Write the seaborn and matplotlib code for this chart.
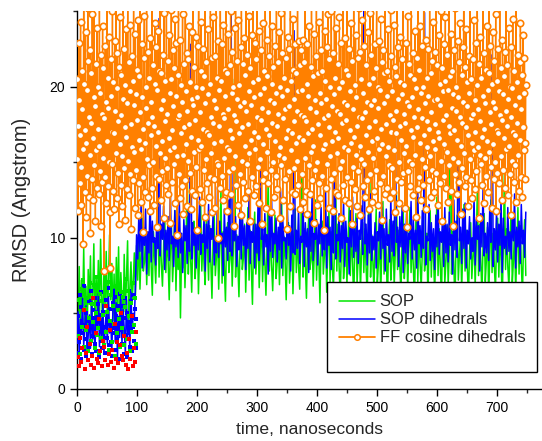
import numpy as np
import pandas as pd
import seaborn as sns
import matplotlib
matplotlib.use('Agg')
import matplotlib.pyplot as plt
from matplotlib.lines import Line2D
from matplotlib.ticker import MultipleLocator

sop = [6.5, 4.2, 8.1, 3.5, 7.2, 5.0, 9.3, 4.4, 6.8, 3.1, 7.9, 5.6, 8.8, 4.0, 6.1, 9.6, 3.8, 7.4, 5.2, 8.5,
       4.6, 9.9, 6.3, 3.4, 8.0, 5.5, 9.1, 4.8, 7.0, 10.2, 5.9, 8.3, 4.5, 7.6, 3.9, 8.7, 5.3, 9.4, 4.1, 7.7,
       6.0, 3.6, 8.9, 5.1, 7.3, 9.8, 4.3, 6.6, 8.4, 5.7, 7.1, 9.0, 6.2,
       9.5, 7.2, 10.8, 6.6, 9.0, 11.3, 7.8, 8.4, 10.1, 6.9, 9.7, 7.5, 11.0, 8.1, 6.2, 10.4, 8.8, 7.0, 9.9, 12.6,
       7.4, 10.6, 8.3, 6.8, 9.4, 11.5, 7.7, 10.0, 8.6, 5.9, 9.2, 10.9, 7.1, 8.9, 11.8, 6.5, 9.6, 7.9, 10.3, 4.7,
       9.1, 8.0, 10.7, 6.7, 9.3, 15.5, 7.6, 10.2, 8.7, 6.4, 9.8, 11.1, 7.3, 8.5, 10.5, 6.3, 9.0, 12.1, 7.8, 10.0,
       8.2, 6.9, 11.4, 9.5, 7.2, 10.8, 8.4, 6.0, 9.7, 11.6, 7.5, 8.8, 10.1, 6.6, 9.4, 13.2, 7.0, 10.4, 8.1, 5.8,
       9.9, 11.0, 7.7, 8.6, 10.6, 6.8, 9.2, 20.5, 7.4, 10.2, 8.3, 6.1, 9.6, 11.3, 7.9, 8.7, 10.9, 6.4, 9.1, 12.0,
       7.2, 10.5, 8.0, 5.6, 9.8, 11.7, 7.6, 8.9, 10.3, 6.7, 9.3, 11.2, 7.1, 10.0, 8.5, 6.2, 9.5, 14.1, 7.8, 10.7,
       8.2, 6.5, 9.0, 11.5, 7.3, 8.4, 10.4, 6.9, 9.7, 12.3, 7.5, 10.1, 8.6, 5.9, 9.4, 11.0, 7.0, 8.8, 10.8, 6.3,
       9.2, 11.9, 7.7, 10.3, 8.1, 6.6, 9.9, 16.8, 7.4, 10.6, 8.3, 6.0, 9.6, 11.4, 7.9, 8.5, 10.2, 6.8, 9.1, 12.5,
       7.2, 10.0, 8.7, 5.7, 9.8, 11.1, 7.6, 8.9, 10.5, 6.4, 9.3, 11.8, 7.1, 10.4, 8.0, 6.7, 9.5, 13.6, 7.8, 10.9,
       8.2, 6.1, 9.0, 11.3, 7.3, 8.6, 10.1, 6.9, 9.7, 12.2, 7.5, 10.7, 8.4, 5.8, 9.4, 11.6, 7.0, 8.8, 10.3, 6.5,
       9.2, 11.0, 7.7, 10.6, 8.1, 6.2, 9.9, 18.4, 7.4, 10.2, 8.5, 6.6, 9.6, 11.9, 7.0, 8.3, 10.8, 6.1, 9.3, 12.4,
       7.6, 10.1, 8.9, 5.5, 9.7, 11.2, 7.2, 8.6, 10.4, 6.8, 9.1, 13.0, 7.9, 10.5, 8.2, 6.3, 9.8, 11.7, 7.3, 8.7,
       10.9, 6.5, 9.4, 12.0, 7.7, 10.2, 8.0, 6.0, 9.5, 15.0, 7.1, 10.7, 8.4, 6.7, 9.0, 11.4, 7.8, 8.8, 10.3, 5.9,
       9.6, 11.8, 7.4, 10.0, 8.6, 6.4, 9.2, 12.7, 7.5, 10.6, 8.1, 6.2, 9.9, 11.1, 7.0, 8.5, 10.8, 6.9, 9.3, 21.6,
       7.6, 10.4, 8.3, 5.7, 9.7, 11.5, 7.2, 8.9, 10.1, 6.6, 9.4, 12.2, 7.8, 10.5, 8.0, 6.1, 9.1, 11.0, 7.3, 8.7,
       10.2, 6.8, 9.8, 13.4, 7.5, 10.9, 8.4, 6.3, 9.5, 11.6, 7.1, 8.6, 10.7, 6.0, 9.0, 12.5, 7.7, 10.3, 8.2, 6.5,
       9.6, 11.3, 7.4, 10.0, 8.8, 5.8, 9.2, 14.6, 7.9, 10.6, 8.1, 6.7, 9.9, 11.9, 7.0, 8.5, 10.4, 6.4, 9.3, 12.0,
       7.6, 10.8, 8.3, 6.2, 9.7, 11.2, 7.5]

sop_dih = [3.2, 5.1, 2.4, 4.6, 3.8, 6.0, 2.9, 4.2, 5.5, 2.2, 3.6, 4.9, 2.7, 5.8, 3.3, 4.4, 2.5, 5.2, 3.9, 6.3,
           2.8, 4.7, 3.5, 5.6, 2.3, 4.1, 5.0, 3.0, 6.1, 3.7, 4.5, 2.6, 5.4, 6.6, 3.1, 5.7, 2.1, 4.8, 3.4, 6.2,
           2.9, 5.3, 4.0, 2.4, 5.9, 3.6, 4.3, 2.7, 6.4, 3.8, 5.0, 4.6, 6.8,
           10.2, 8.6, 11.5, 9.1, 12.3, 8.0, 10.7, 9.5, 11.9, 7.6, 10.4, 9.0, 12.8, 8.4, 11.1, 9.7, 10.0, 8.2, 11.7, 9.3,
           24.5, 8.8, 10.9, 9.9, 12.1, 7.9, 10.5, 9.2, 11.4, 8.5, 13.0, 9.6, 10.1, 8.1, 11.8, 9.4, 10.6, 8.7, 12.4, 9.0,
           10.3, 7.7, 11.2, 9.8, 10.8, 8.3, 12.0, 9.1, 22.8, 8.6, 11.0, 9.5, 10.4, 8.0, 11.6, 9.2, 12.7, 8.9, 10.2, 9.7,
           11.3, 7.8, 10.9, 9.3, 12.2, 8.4, 10.6, 9.9, 11.5, 8.2, 10.0, 9.0, 13.4, 8.7, 11.1, 9.6, 10.3, 7.5, 11.9, 9.4,
           10.7, 8.5, 12.5, 9.1, 26.0, 8.8, 10.5, 9.8, 11.4, 8.1, 10.1, 9.2, 12.0, 8.6, 11.7, 9.5, 10.8, 7.9, 11.0, 9.3,
           12.9, 8.3, 10.4, 9.7, 11.2, 8.0, 10.9, 9.0, 12.3, 8.5, 19.6, 9.9, 10.6, 8.2, 11.6, 9.4, 10.2, 7.6, 11.8, 9.1,
           12.6, 8.7, 10.3, 9.6, 11.3, 8.4, 10.7, 9.2, 13.1, 8.0, 11.1, 9.8, 10.0, 8.6, 12.1, 9.5, 10.8, 7.8, 11.5, 9.0,
           23.7, 8.9, 10.5, 9.3, 11.9, 8.3, 10.1, 9.7, 12.4, 8.1, 11.0, 9.4, 10.6, 7.7, 11.7, 9.1, 12.8, 8.5, 10.3, 9.9,
           11.2, 8.2, 10.9, 9.6, 12.0, 8.8, 10.4, 9.2, 13.3, 8.0, 11.4, 9.5, 10.7, 7.9, 12.2, 9.0, 21.4, 8.6, 10.2, 9.8,
           11.6, 8.4, 10.8, 9.3, 12.5, 8.1, 11.1, 9.7, 10.0, 7.6, 11.8, 9.4, 12.7, 8.7, 10.6, 9.1, 11.3, 8.3, 10.5, 9.9,
           12.1, 8.9, 25.5, 9.6, 10.9, 8.2, 11.5, 9.0, 12.9, 8.5, 10.1, 9.2, 11.0, 8.0, 10.4, 9.8, 11.7, 8.6, 12.3, 9.3,
           10.6, 7.8, 11.9, 9.5, 10.2, 8.4, 12.6, 9.1, 11.1, 8.8, 18.2, 9.7, 10.7, 8.1, 11.4, 9.4, 12.0, 7.7, 10.9, 9.0,
           11.6, 8.3, 10.3, 9.9, 12.4, 8.6, 11.2, 9.2, 10.5, 8.0, 13.0, 9.6, 10.8, 8.7, 11.8, 9.3, 24.9, 8.2, 10.1, 9.8,
           12.2, 8.5, 11.0, 9.1, 10.6, 7.9, 11.5, 9.4, 12.8, 8.9, 10.4, 9.7, 11.3, 8.1, 12.0, 9.0, 10.9, 8.4, 11.7, 9.5,
           10.2, 7.6, 12.5, 9.2, 11.1, 8.7, 20.3, 9.8, 10.7, 8.3, 11.9, 9.3, 12.3, 8.0, 10.5, 9.6, 11.4, 8.6, 10.0, 9.1,
           12.7, 8.2, 11.2, 9.9, 10.8, 7.8, 11.6, 9.4, 13.2, 8.8, 10.3, 9.0, 11.0, 8.5, 12.1, 9.7, 22.1, 8.1, 10.6, 9.2,
           11.8, 8.4, 10.9, 9.5, 12.6, 7.7, 11.3, 9.3, 10.1, 8.9, 12.0, 9.1, 10.4, 8.6, 11.5, 9.8, 12.9, 8.0, 10.7, 9.4,
           11.1, 8.3, 12.2, 9.6, 10.5, 8.7, 11.7]

ff_cos = [20.5, 15.2, 11.8, 17.4, 22.9, 19.1, 13.6, 16.8, 24.3, 12.2, 14.7, 21.0, 18.5, 9.6, 15.9, 26.8, 20.2, 13.0, 17.1, 23.6,
          16.3, 11.4, 19.8, 14.1, 25.2, 21.7, 12.7, 18.0, 15.5, 22.4, 10.3, 17.6, 20.9, 13.9, 24.8, 16.6, 12.5, 19.3, 27.4, 14.8,
          18.7, 11.1, 21.5, 15.8, 13.3, 23.9, 17.2, 20.0, 12.9, 16.1, 25.7, 14.4, 19.6, 10.8, 22.1, 18.2, 13.7, 24.0, 15.3, 21.2,
          7.8, 17.9, 14.0, 22.7, 19.0, 12.3, 16.4, 26.1, 20.6, 13.4, 18.6, 15.0, 23.3, 11.7, 8.0, 19.4, 21.8, 14.9, 17.0, 25.0,
          13.1, 20.3, 16.9, 11.9, 23.0, 18.4, 15.6, 28.2, 12.6, 19.9, 22.2, 14.3, 17.7, 10.9, 21.3, 24.6, 16.2, 13.5, 20.8, 18.1,
          12.1, 15.4, 26.3, 19.2, 14.6, 22.5, 17.3, 11.2, 20.1, 23.8, 16.7, 13.2, 18.9, 25.5, 15.1, 12.8, 21.6, 19.7, 14.2, 24.1,
          17.5, 10.6, 22.0, 16.0, 20.4, 13.8, 27.0, 18.8, 15.7, 12.0, 23.5, 19.5, 14.5, 21.1, 17.8, 11.5, 24.4, 16.5, 20.7, 13.6,
          25.8, 18.3, 12.4, 15.9, 22.8, 19.3, 14.0, 17.2, 10.4, 21.9, 24.7, 16.3, 13.0, 20.0, 18.6, 29.1, 15.2, 12.7, 22.3, 17.6,
          14.8, 20.6, 11.8, 23.2, 19.0, 16.8, 13.3, 25.3, 18.0, 21.4, 15.0, 12.2, 17.4, 24.2, 20.2, 14.1, 22.6, 16.1, 10.7, 19.8,
          23.7, 17.0, 13.9, 21.0, 15.6, 26.5, 18.5, 12.5, 20.9, 16.4, 14.4, 22.1, 19.1, 11.3, 24.9, 17.7, 15.3, 20.4, 13.5, 27.8,
          18.2, 14.6, 21.7, 12.9, 16.6, 23.4, 19.6, 15.8, 11.0, 20.5, 25.1, 17.1, 13.7, 22.4, 18.7, 14.9, 21.2, 16.0, 24.5, 12.3,
          19.4, 22.9, 15.4, 10.2, 17.9, 20.8, 26.0, 14.2, 18.1, 12.6, 23.1, 16.9, 20.1, 13.4, 19.0, 24.8, 15.5, 11.6, 21.5, 17.3,
          13.8, 28.4, 19.7, 16.2, 22.2, 12.1, 18.4, 15.1, 21.8, 24.0, 17.5, 14.3, 20.3, 11.9, 16.7, 23.6, 19.2, 13.1, 25.6, 18.8,
          15.7, 21.3, 12.8, 17.8, 20.0, 14.7, 23.3, 10.5, 19.3, 16.5, 22.7, 27.2, 15.9, 13.2, 18.3, 21.0, 24.3, 16.1, 12.4, 19.9,
          22.5, 17.2, 14.5, 20.7, 11.4, 25.9, 18.9, 15.2, 21.6, 13.6, 17.0, 23.8, 19.5, 12.7, 16.8, 20.2, 14.0, 26.7, 18.0, 15.6,
          11.7, 21.9, 17.6, 24.6, 13.9, 19.1, 16.3, 22.0, 12.0, 18.6, 25.4, 15.0, 20.6, 14.8, 10.0, 23.0, 17.4, 19.8, 13.3, 28.8,
          16.4, 20.4, 14.1, 22.8, 18.2, 12.5, 24.1, 17.9, 15.3, 21.1, 19.4, 13.0, 26.2, 16.0, 20.9, 11.8, 18.5, 23.5, 15.8, 14.4,
          21.4, 17.1, 25.0, 12.9, 19.6, 16.6, 22.3, 14.6, 20.0, 10.8, 18.1, 23.9, 15.4, 27.5, 17.7, 13.5, 21.7, 19.2, 12.2, 24.4,
          16.9, 20.1, 14.2, 18.7, 22.6, 11.5, 25.7, 17.3, 15.1, 21.5, 13.7, 19.0, 23.2, 16.1, 12.6, 20.8, 26.4, 18.4, 14.9, 22.1,
          17.5, 13.1, 19.7, 24.7, 15.6, 21.2, 11.1, 18.8, 16.5, 23.4, 14.0, 20.3, 28.0, 17.0, 12.8, 19.3, 22.9, 15.9, 13.4, 21.8,
          18.0, 25.3, 14.7, 16.7, 20.5, 12.3, 23.7, 19.5, 15.2, 17.8, 22.4, 10.9, 18.6, 24.2, 16.2, 13.8, 21.0, 19.9, 14.3, 26.9,
          17.2, 12.0, 20.7, 15.7, 23.1, 18.3, 13.6, 22.0, 16.8, 19.1, 25.8, 14.5, 11.7, 20.2, 17.6, 24.0, 15.0, 21.3, 12.7, 18.9,
          22.7, 16.4, 14.1, 19.6, 27.3, 17.4, 13.2, 21.6, 18.2, 15.5, 23.6, 11.3, 20.0, 16.0, 24.9, 14.8, 19.4, 22.2, 12.5, 17.9,
          20.6, 15.3, 25.5, 18.5, 13.9, 21.9, 16.6, 10.6, 19.8, 23.3, 17.1, 14.4, 22.5, 18.7, 12.1, 26.1, 15.8, 20.4, 16.9, 13.0,
          21.1, 24.5, 17.7, 14.6, 19.2, 12.9, 22.8, 16.3, 20.9, 15.1, 18.4, 27.7, 13.5, 19.7, 23.0, 16.7, 11.9, 21.4, 18.1, 22.4,
          14.2, 19.8, 23.1, 16.5, 12.4, 18.0, 21.6, 15.3, 25.4, 17.7, 13.1, 20.2, 22.8, 11.6, 16.9, 19.4, 24.0, 14.8, 18.6, 12.9,
          21.3, 15.7, 27.1, 17.2, 13.8, 20.7, 16.1, 23.5, 11.0, 19.1, 14.5, 22.0, 18.3, 25.9, 15.0, 12.2, 20.9, 17.5, 13.6, 24.3,
          16.8, 19.6, 12.6, 22.4, 18.9, 14.1, 21.0, 26.6, 15.9, 17.9, 10.5, 20.4, 23.7, 16.2, 13.3, 19.2, 22.6, 14.9, 18.1, 24.8,
          12.0, 17.3, 21.8, 15.4, 20.0, 13.9, 25.0, 18.7, 16.4, 11.8, 22.2, 19.5, 14.3, 28.5, 17.0, 20.6, 13.0, 23.9, 15.6, 18.4,
          21.5, 12.8, 16.6, 19.9, 24.6, 14.6, 18.2, 22.9, 11.3, 17.6, 20.3, 15.1, 26.3, 13.5, 19.0, 16.0, 23.2, 12.5, 21.1, 17.8,
          14.0, 25.6, 18.8, 15.8, 20.8, 12.3, 22.5, 17.1, 19.7, 13.7, 24.2, 16.3, 10.9, 21.7, 18.5, 14.7, 27.6, 16.7, 20.1, 13.2,
          23.4, 15.5, 19.3, 12.1, 17.4, 21.9, 14.4, 25.2, 18.0, 16.1, 22.3, 11.5, 20.5, 15.2, 24.4, 17.9, 13.4, 19.6, 22.7, 14.9,
          18.3, 26.0, 12.7, 16.8, 21.4, 19.0, 13.8, 23.6, 15.7, 20.2, 11.9, 17.3, 24.9, 14.2, 18.8, 22.1, 16.4, 12.4, 20.6, 29.3,
          15.3, 19.1, 13.1, 22.8, 17.7, 14.5, 21.2, 25.7, 16.6, 18.6, 12.2, 20.0, 23.0, 15.9, 13.6, 19.8, 24.5, 17.2, 11.2, 21.6,
          16.2, 22.4, 14.1, 18.9, 20.9, 12.9, 26.8, 17.5, 15.4, 21.0, 13.3, 19.4, 23.8, 16.0, 14.8, 20.4, 18.1, 12.6, 25.1, 17.0,
          22.0, 14.6, 19.7, 13.0, 17.8, 24.1, 15.8, 21.3, 11.7, 18.4, 20.7, 16.9, 27.9, 13.9, 19.2, 22.6, 15.0, 12.3, 20.3, 17.4,
          23.3, 16.5, 13.7, 19.5, 21.8, 14.3, 25.3, 18.2, 15.6, 20.1, 12.0, 17.6, 22.9, 16.1, 19.0, 10.7, 24.7, 14.4, 18.7, 21.5,
          15.1, 20.8, 13.4, 17.1, 26.4, 19.3, 14.9, 22.2, 16.7, 12.8, 20.5, 18.0, 23.7, 15.5, 11.4, 19.9, 21.9, 17.3, 13.2, 25.5,
          18.5, 14.0, 21.1, 16.3, 24.0, 12.5, 19.6, 17.9, 22.7, 15.2, 13.5, 20.0, 28.2, 16.8, 18.9, 14.7, 23.1, 11.9, 20.6, 17.7,
          16.0, 22.5, 19.4, 13.8, 17.2, 25.8, 15.4, 20.9, 12.7, 18.3, 21.7, 14.5, 24.3, 16.4, 19.1, 13.0, 22.3, 17.5, 15.9, 26.5,
          14.3, 19.2, 21.4, 12.2, 17.0, 23.4, 16.6, 20.2, 13.6, 18.8, 25.0, 15.1, 11.1, 21.2, 17.8, 19.7, 14.1, 22.8, 16.2, 20.4,
          24.6, 13.3, 18.1, 15.7, 22.1, 19.8, 12.4, 17.4, 27.0, 14.8, 20.7, 16.9, 23.5, 13.1, 18.6, 21.0, 15.3, 10.8, 19.5, 22.4,
          17.1, 14.2, 25.2, 18.4, 20.0, 12.9, 16.5, 23.0, 19.3, 15.0, 21.6, 13.7, 18.0, 24.2, 16.1, 11.6, 20.8, 17.6, 14.6, 22.6,
          19.0, 28.7, 15.6, 13.4, 21.3, 17.3, 23.8, 14.0, 18.7, 20.3, 12.1, 16.8, 22.0, 19.6, 15.2, 25.6, 17.9, 13.8, 20.5, 16.3,
          12.6, 21.8, 18.2, 24.4, 15.8, 19.1, 13.2, 17.0, 22.9, 14.4, 20.1, 26.2, 16.0, 18.5, 11.3, 21.5, 15.5, 23.3, 17.7, 14.9,
          20.6, 16.7, 13.5, 19.4, 25.4, 17.2, 12.3, 22.2, 18.9, 15.3, 21.1, 14.1, 24.0, 16.4, 19.8, 13.0, 20.9, 27.4, 15.7, 18.3,
          22.7, 14.7, 17.5, 12.0, 20.2, 23.6, 16.2, 19.0, 13.9, 21.7, 15.0, 18.6, 24.8, 11.8, 17.1, 20.4, 14.3, 22.5, 16.9, 19.7,
          13.6, 25.9, 18.1, 15.4, 21.2, 17.8, 12.5, 23.1, 19.5, 14.5, 16.6, 20.7, 22.3, 13.3, 18.4, 26.9, 15.9, 21.4, 17.4, 12.8,
          19.2, 23.9, 16.1, 14.2, 20.0, 18.0, 11.5, 22.6, 15.1, 19.9, 24.5, 17.0, 13.7, 21.0, 16.8, 18.8, 14.8, 25.3, 12.4, 20.3,
          17.6, 15.5, 22.1, 19.3, 13.1, 21.6, 16.5, 24.2, 18.5, 14.0, 20.8, 12.7, 17.3, 23.4, 19.6, 15.8, 21.9, 16.3, 13.9, 20.1]

# early replicate runs during the first 100 ns (dots)
early_red = [2.1, 1.5, 3.4, 1.8, 2.7, 5.2, 1.3, 2.4, 4.1, 1.9, 3.0, 1.6, 2.2, 6.0, 1.4, 3.7, 2.0, 1.7, 4.6, 2.5,
             1.5, 3.2, 2.8, 1.9, 5.5, 1.6, 2.3, 3.9, 1.8, 2.6, 1.4, 4.3, 2.0, 3.1, 1.7, 2.9, 5.0, 2.2, 1.9, 3.5,
             1.6, 2.4, 1.3, 3.3, 2.0, 4.8, 1.5, 2.7, 1.8, 3.8]
early_blue = [2.4, 4.8, 3.1, 6.2, 2.0, 5.4, 3.7, 4.2, 2.6, 6.8, 3.3, 5.0, 2.2, 4.5, 3.9, 5.8, 2.8, 4.0, 6.5, 3.5,
              2.3, 5.2, 4.7, 3.0, 6.0, 2.5, 4.4, 3.6, 5.6, 2.1, 4.9, 3.2, 6.4, 2.7, 5.1, 4.1, 3.8, 2.4, 5.9, 4.6,
              3.4, 6.7, 2.9, 5.3, 4.3, 3.1, 2.2, 5.7, 4.0, 3.7, 6.1, 2.6, 4.8, 3.3, 5.5, 2.0, 4.2, 6.3, 3.9, 5.0,
              3.0, 5.5, 2.3, 4.7, 6.0, 3.6, 2.1, 5.0, 4.4, 6.5, 2.8, 3.9, 5.8, 2.5, 4.1, 6.2, 3.2, 5.3, 2.7, 4.6]
early_green = [3.5, 5.9, 2.3, 6.6, 4.1, 7.2, 2.8, 5.3, 3.9, 6.0, 2.5, 4.7, 7.0, 3.2, 5.6, 4.4, 6.9, 2.7, 5.0, 3.6,
               7.4, 4.0, 2.4, 6.3, 3.4, 5.8, 4.9, 2.9, 6.7, 3.8, 5.1, 7.1, 2.6, 4.5, 6.2, 3.1, 5.5, 4.3, 2.2, 6.8,
               3.7, 5.2, 4.6, 2.8, 6.4, 4.0, 6.1, 2.9, 5.4, 7.3, 3.3, 6.5, 4.8, 2.5, 5.7, 3.8, 7.0, 4.2, 6.0, 3.0]

T_END = 748.
T_EARLY = (1., 99.)

def trace(vals, t0, t1):
  return pd.DataFrame({'time': np.linspace(t0, t1, len(vals)), 'rmsd': vals})

GREEN = '#00e600'
BLUE = '#0000ff'
ORANGE = '#ff8000'
RED = '#ff0000'

sns.set_style('ticks')
plt.rcParams['font.family'] = ['Liberation Sans', 'DejaVu Sans']

fig = plt.figure(figsize=(5.42, 4.41), dpi=100)
ax = fig.add_axes([0.142, 0.118, 0.858, 0.857])

sns.lineplot(data=trace(sop, 0, T_END), x='time', y='rmsd', sort=False, estimator=None,
             color=GREEN, lw=1.1, ax=ax, zorder=2)
sns.lineplot(data=trace(sop_dih, 0, T_END), x='time', y='rmsd', sort=False, estimator=None,
             color=BLUE, lw=1.1, ax=ax, zorder=3)
for vals, col in ((early_blue, BLUE), (early_green, GREEN), (early_red, RED)):
  sns.scatterplot(data=trace(vals, *T_EARLY), x='time', y='rmsd', color=col, marker='s',
                  s=6, linewidth=0, ax=ax, zorder=4)
sns.lineplot(data=trace(ff_cos, 0, T_END), x='time', y='rmsd', sort=False, estimator=None,
             color=ORANGE, lw=1.0, marker='o', markersize=4.6, markerfacecolor='white',
             markeredgecolor=ORANGE, markeredgewidth=1.2, ax=ax, zorder=5)

ax.set_xlim(0, 775)
ax.set_ylim(0, 25)
ax.xaxis.set_major_locator(MultipleLocator(100))
ax.xaxis.set_minor_locator(MultipleLocator(50))
ax.yaxis.set_major_locator(MultipleLocator(10))
ax.yaxis.set_minor_locator(MultipleLocator(5))
ax.tick_params(which='major', direction='out', length=5, width=1, labelsize=10, colors='black')
ax.tick_params(which='minor', direction='out', length=3, width=1)
sns.despine(ax=ax, top=True, right=True)
for sp in ('left', 'bottom'):
  ax.spines[sp].set_color('black')
  ax.spines[sp].set_linewidth(1.0)

ax.set_xlabel('time, nanoseconds', fontsize=12.6, labelpad=5)
ax.set_ylabel('RMSD (Angstrom)', fontsize=14.5, labelpad=13)

# legend: three series plus a short blank row at the bottom of the box
handles = [Line2D([], [], color=GREEN, lw=1.1),
           Line2D([], [], color=BLUE, lw=1.1),
           Line2D([], [], color=ORANGE, lw=1.3, marker='o', markersize=4,
                  markerfacecolor='white', markeredgecolor=ORANGE, markeredgewidth=1.1),
           Line2D([], [], color='none')]
labels = ['SOP', 'SOP dihedrals', 'FF cosine dihedrals', ' ']
leg = ax.legend(handles, labels, loc='lower left', bbox_to_anchor=(0.538, 0.045), borderaxespad=0,
                fontsize=12, frameon=True, fancybox=False, edgecolor='black', framealpha=1,
                handlelength=2.2, handletextpad=0.25, handleheight=0.3, borderpad=0.7,
                labelspacing=0.2, numpoints=1)
leg.get_texts()[3].set_fontsize(5)
leg.get_frame().set_linewidth(1.0)
leg.set_zorder(10)

fig.savefig('out.png', dpi=100)
